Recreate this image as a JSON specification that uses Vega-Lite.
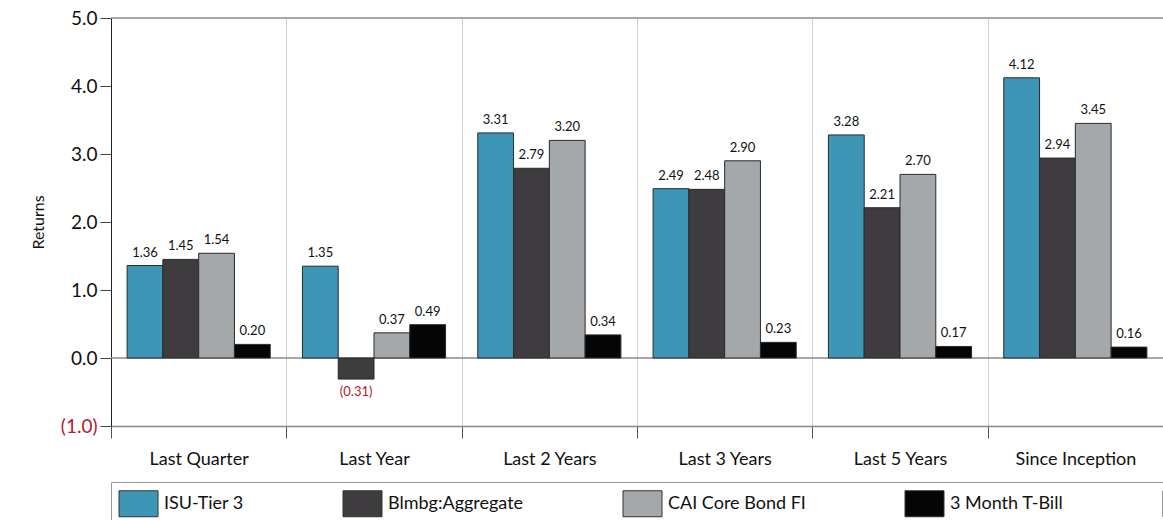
{
  "$schema": "https://vega.github.io/schema/vega-lite/v6.json",
  "width": 1052,
  "height": 408,
  "autosize": {"type": "none"},
  "padding": {"left": 111, "top": 18, "right": 0, "bottom": 94},
  "config": {"font": "Lato", "view": {"stroke": null}},
  "data": {"values": [
    {"period": "Last Quarter", "series": "ISU-Tier 3", "value": 1.36},
    {"period": "Last Quarter", "series": "Blmbg:Aggregate", "value": 1.45},
    {"period": "Last Quarter", "series": "CAI Core Bond FI", "value": 1.54},
    {"period": "Last Quarter", "series": "3 Month T-Bill", "value": 0.20},
    {"period": "Last Year", "series": "ISU-Tier 3", "value": 1.35},
    {"period": "Last Year", "series": "Blmbg:Aggregate", "value": -0.31},
    {"period": "Last Year", "series": "CAI Core Bond FI", "value": 0.37},
    {"period": "Last Year", "series": "3 Month T-Bill", "value": 0.49},
    {"period": "Last 2 Years", "series": "ISU-Tier 3", "value": 3.31},
    {"period": "Last 2 Years", "series": "Blmbg:Aggregate", "value": 2.79},
    {"period": "Last 2 Years", "series": "CAI Core Bond FI", "value": 3.20},
    {"period": "Last 2 Years", "series": "3 Month T-Bill", "value": 0.34},
    {"period": "Last 3 Years", "series": "ISU-Tier 3", "value": 2.49},
    {"period": "Last 3 Years", "series": "Blmbg:Aggregate", "value": 2.48},
    {"period": "Last 3 Years", "series": "CAI Core Bond FI", "value": 2.90},
    {"period": "Last 3 Years", "series": "3 Month T-Bill", "value": 0.23},
    {"period": "Last 5 Years", "series": "ISU-Tier 3", "value": 3.28},
    {"period": "Last 5 Years", "series": "Blmbg:Aggregate", "value": 2.21},
    {"period": "Last 5 Years", "series": "CAI Core Bond FI", "value": 2.70},
    {"period": "Last 5 Years", "series": "3 Month T-Bill", "value": 0.17},
    {"period": "Since Inception", "series": "ISU-Tier 3", "value": 4.12},
    {"period": "Since Inception", "series": "Blmbg:Aggregate", "value": 2.94},
    {"period": "Since Inception", "series": "CAI Core Bond FI", "value": 3.45},
    {"period": "Since Inception", "series": "3 Month T-Bill", "value": 0.16}
  ]},
  "encoding": {
    "x": {"field": "period", "type": "nominal",
      "sort": ["Last Quarter", "Last Year", "Last 2 Years", "Last 3 Years", "Last 5 Years", "Since Inception"],
      "scale": {"paddingInner": 0, "paddingOuter": 0},
      "axis": {"title": null, "tickBand": "extent", "grid": true, "gridColor": "#d0d0d0", "tickSize": 12, "tickColor": "#555", "domainColor": "#888", "domainWidth": 1.5, "labelFontSize": 18, "labelPadding": 12, "labelAngle": 0, "labelColor": "#111"}},
    "xOffset": {"field": "series", "type": "nominal",
      "sort": ["ISU-Tier 3", "Blmbg:Aggregate", "CAI Core Bond FI", "3 Month T-Bill"],
      "scale": {"domain": ["ISU-Tier 3", "Blmbg:Aggregate", "CAI Core Bond FI", "3 Month T-Bill"], "paddingInner": 0, "paddingOuter": 0.45}},
    "y": {"field": "value", "type": "quantitative",
      "scale": {"domain": [-1, 5], "nice": false, "zero": false},
      "axis": {"title": "Returns", "values": [-1, 0, 1, 2, 3, 4, 5],
        "labelExpr": "datum.value < 0 ? '(' + format(-datum.value, '.1f') + ')' : format(datum.value, '.1f')",
        "labelColor": {"condition": {"test": "datum.value < 0", "value": "#b3202f"}, "value": "#111"},
        "labelFontSize": 19, "labelPadding": 3, "tickSize": 11, "tickColor": "#444", "domainColor": "#222",
        "grid": false, "titleFontSize": 16, "titleFontWeight": "normal", "titleColor": "#111", "titlePadding": 14}}
  },
  "layer": [
    {
      "data": {"values": [{"ref": 0}, {"ref": 5}]},
      "mark": {"type": "rule", "color": "#8a8a8a", "strokeWidth": 1.5},
      "encoding": {"x": null, "xOffset": null, "y": {"field": "ref", "type": "quantitative"}}
    },
    {
      "mark": {"type": "bar", "stroke": "#2a2a2a", "strokeWidth": 1},
      "encoding": {
        "color": {"field": "series", "type": "nominal",
          "scale": {"domain": ["ISU-Tier 3", "Blmbg:Aggregate", "CAI Core Bond FI", "3 Month T-Bill", "zz-spacer"],
                    "range": ["#3d96b5", "#3e3c3f", "#a4a8aa", "#050505", "#ffffff"]},
          "legend": {"orient": "none", "legendX": 0, "legendY": 464, "direction": "horizontal", "columns": 5,
            "title": null, "symbolType": "M-1.5,-1H1.5V1H-1.5Z", "symbolSize": 676, "symbolStrokeColor": "#333",
            "symbolStrokeWidth": 1, "symbolOpacity": 1, "symbolOffset": 6, "labelFontSize": 18, "labelOffset": 12,
            "labelColor": "#111", "labelLimit": 600, "columnPadding": 97, "padding": 8, "strokeColor": "#999",
            "labelExpr": "datum.label == 'zz-spacer' ? '' : datum.label"}}
      }
    },
    {
      "transform": [{"filter": "datum.value >= 0"}],
      "mark": {"type": "text", "baseline": "bottom", "dy": -6, "fontSize": 13, "color": "#111"},
      "encoding": {"text": {"field": "value", "type": "quantitative", "format": ".2f"}}
    },
    {
      "transform": [{"filter": "datum.value < 0"}],
      "mark": {"type": "text", "baseline": "top", "dy": 7, "fontSize": 13, "color": "#b3202f"},
      "encoding": {"text": {"field": "value", "type": "quantitative", "format": "(.2f"}}
    }
  ]
}
